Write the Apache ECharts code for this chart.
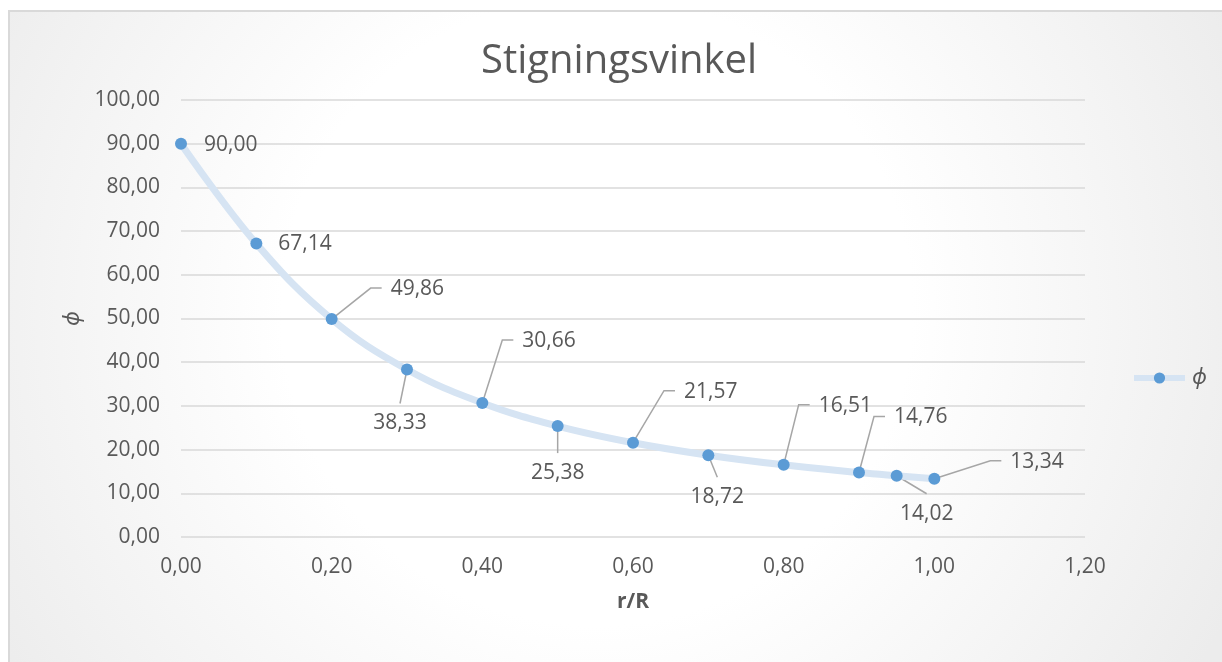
<!DOCTYPE html>
<html>
<head>
<meta charset="utf-8">
<title>Stigningsvinkel</title>
<script src="https://cdn.jsdelivr.net/npm/echarts@6/dist/echarts.min.js"></script>
<style>
  html, body { margin: 0; padding: 0; background: #ffffff; }
  #chart { width: 1222px; height: 662px; }
</style>
</head>
<body>
<div id="chart"></div>
<script>
// Radial position r/R and pitch angle ϕ (degrees)
const rR  = [0.00, 0.10, 0.20, 0.30, 0.40, 0.50, 0.60, 0.70, 0.80, 0.90, 0.95, 1.00];
const phi = [90.00, 67.14, 49.86, 38.33, 30.66, 25.38, 21.57, 18.72, 16.51, 14.76, 14.02, 13.34];

const seriesName = 'ϕ';
const chartTitle = 'Stigningsvinkel';
const xName = 'r/R';
const yName = 'ϕ';

// Where each value label sits relative to its point (pixels):
//  side  – text to the right, no leader
//  elbow – text up/right, leader with a short horizontal end (dx = text left edge)
//  below – text underneath, straight leader (dx = text centre)
const labelPlacement = [
  { kind: 'side',  dx: 23, dy: 1 },
  { kind: 'side',  dx: 22, dy: 0 },
  { kind: 'elbow', dx: 59, dy: -31 },
  { kind: 'below', dx: -7, dy: 54 },
  { kind: 'elbow', dx: 40, dy: -63 },
  { kind: 'below', dx: 0,  dy: 47 },
  { kind: 'elbow', dx: 51, dy: -52 },
  { kind: 'below', dx: 9,  dy: 42 },
  { kind: 'elbow', dx: 35, dy: -60 },
  { kind: 'elbow', dx: 35, dy: -56 },
  { kind: 'below', dx: 30, dy: 38 },
  { kind: 'elbow', dx: 76, dy: -18 }
];

const FONT = "'Open Sans', 'Noto Sans', sans-serif";
const TEXT_GRAY = '#595959';
const LINE_BLUE = '#d6e4f3';
const MARK_BLUE = '#5b9bd5';
const fmt = v => Number(v).toFixed(2).replace('.', ',');

const points = rR.map((x, i) => [x, phi[i]]);

const chart = echarts.init(document.getElementById('chart'), null, { renderer: 'canvas' });

chart.setOption({
  animation: false,
  backgroundColor: '#ffffff',
  graphic: [{
    type: 'rect',
    z: -10,
    silent: true,
    shape: { x: 9, y: 11, width: 1225, height: 665 },
    style: {
      fill: {
        type: 'radial', x: 0.48, y: 0.45, r: 1.05,
        colorStops: [
          { offset: 0, color: '#ffffff' },
          { offset: 0.45, color: '#ffffff' },
          { offset: 1, color: '#ececec' }
        ]
      },
      stroke: '#d9d9d9',
      lineWidth: 2
    }
  }],
  title: {
    text: chartTitle,
    left: 476,
    top: 37,
    textStyle: { fontFamily: FONT, fontSize: 40, fontWeight: 'normal', color: TEXT_GRAY }
  },
  legend: {
    data: [seriesName],
    orient: 'vertical',
    left: 1126,
    top: 362,
    itemWidth: 51,
    itemHeight: 14,
    itemGap: 6,
    lineStyle: { width: 6, color: LINE_BLUE },
    textStyle: { fontFamily: FONT, fontSize: 22, fontStyle: 'italic', color: TEXT_GRAY, padding: [0, 0, 0, 2] }
  },
  grid: { left: 181, right: 137, top: 100, bottom: 125, containLabel: false },
  xAxis: {
    type: 'value',
    min: 0, max: 1.2, interval: 0.2,
    name: xName,
    nameLocation: 'middle',
    nameGap: 55,
    nameTextStyle: { fontFamily: FONT, fontSize: 21, fontWeight: 'bold', color: TEXT_GRAY },
    axisLine: { show: false },
    axisTick: { show: false },
    splitLine: { show: false },
    axisLabel: {
      margin: 20,
      fontFamily: FONT, fontSize: 21, color: TEXT_GRAY,
      formatter: v => fmt(v)
    }
  },
  yAxis: {
    type: 'value',
    min: 0, max: 100, interval: 10,
    name: yName,
    nameLocation: 'middle',
    nameGap: 97,
    nameTextStyle: { fontFamily: FONT, fontSize: 22, fontStyle: 'italic', color: TEXT_GRAY },
    axisLine: { show: false },
    axisTick: { show: false },
    splitLine: { lineStyle: { color: '#d9d9d9', width: 1.5 } },
    axisLabel: {
      margin: 21,
      fontFamily: FONT, fontSize: 21, color: TEXT_GRAY,
      formatter: v => fmt(v)
    }
  },
  series: [
    {
      name: seriesName,
      type: 'line',
      data: points,
      smooth: 0.4,
      z: 3,
      symbol: 'circle',
      symbolSize: 12,
      lineStyle: { color: LINE_BLUE, width: 7 },
      itemStyle: { color: MARK_BLUE, borderWidth: 0 }
    },
    {
      name: 'labels',
      type: 'custom',
      data: points,
      z: 2,
      silent: true,
      clip: false,
      renderItem: function (params, api) {
        const i = params.dataIndex;
        const p = api.coord([api.value(0), api.value(1)]);
        const pl = labelPlacement[i];
        const text = fmt(api.value(1));
        const children = [];
        const textStyle = { text: text, fill: TEXT_GRAY, fontFamily: FONT, fontSize: 21, verticalAlign: 'middle' };
        const lineStyle = { stroke: '#a6a6a6', lineWidth: 1.5, fill: null };
        if (pl.kind === 'side') {
          children.push({ type: 'text', x: p[0] + pl.dx, y: p[1] + pl.dy,
            style: Object.assign({ align: 'left' }, textStyle) });
        } else if (pl.kind === 'elbow') {
          const left = p[0] + pl.dx, cy = p[1] + pl.dy;
          children.push({ type: 'polyline',
            shape: { points: [[p[0], p[1]], [left - 20, cy], [left - 9, cy]] }, style: lineStyle });
          children.push({ type: 'text', x: left, y: cy + 1,
            style: Object.assign({ align: 'left' }, textStyle) });
        } else {
          const cx = p[0] + pl.dx, cy = p[1] + pl.dy;
          children.push({ type: 'polyline',
            shape: { points: [[p[0], p[1]], [cx, cy - 20]] }, style: lineStyle });
          children.push({ type: 'text', x: cx, y: cy,
            style: Object.assign({ align: 'center' }, textStyle) });
        }
        return { type: 'group', children: children };
      }
    }
  ]
});
</script>
</body>
</html>
